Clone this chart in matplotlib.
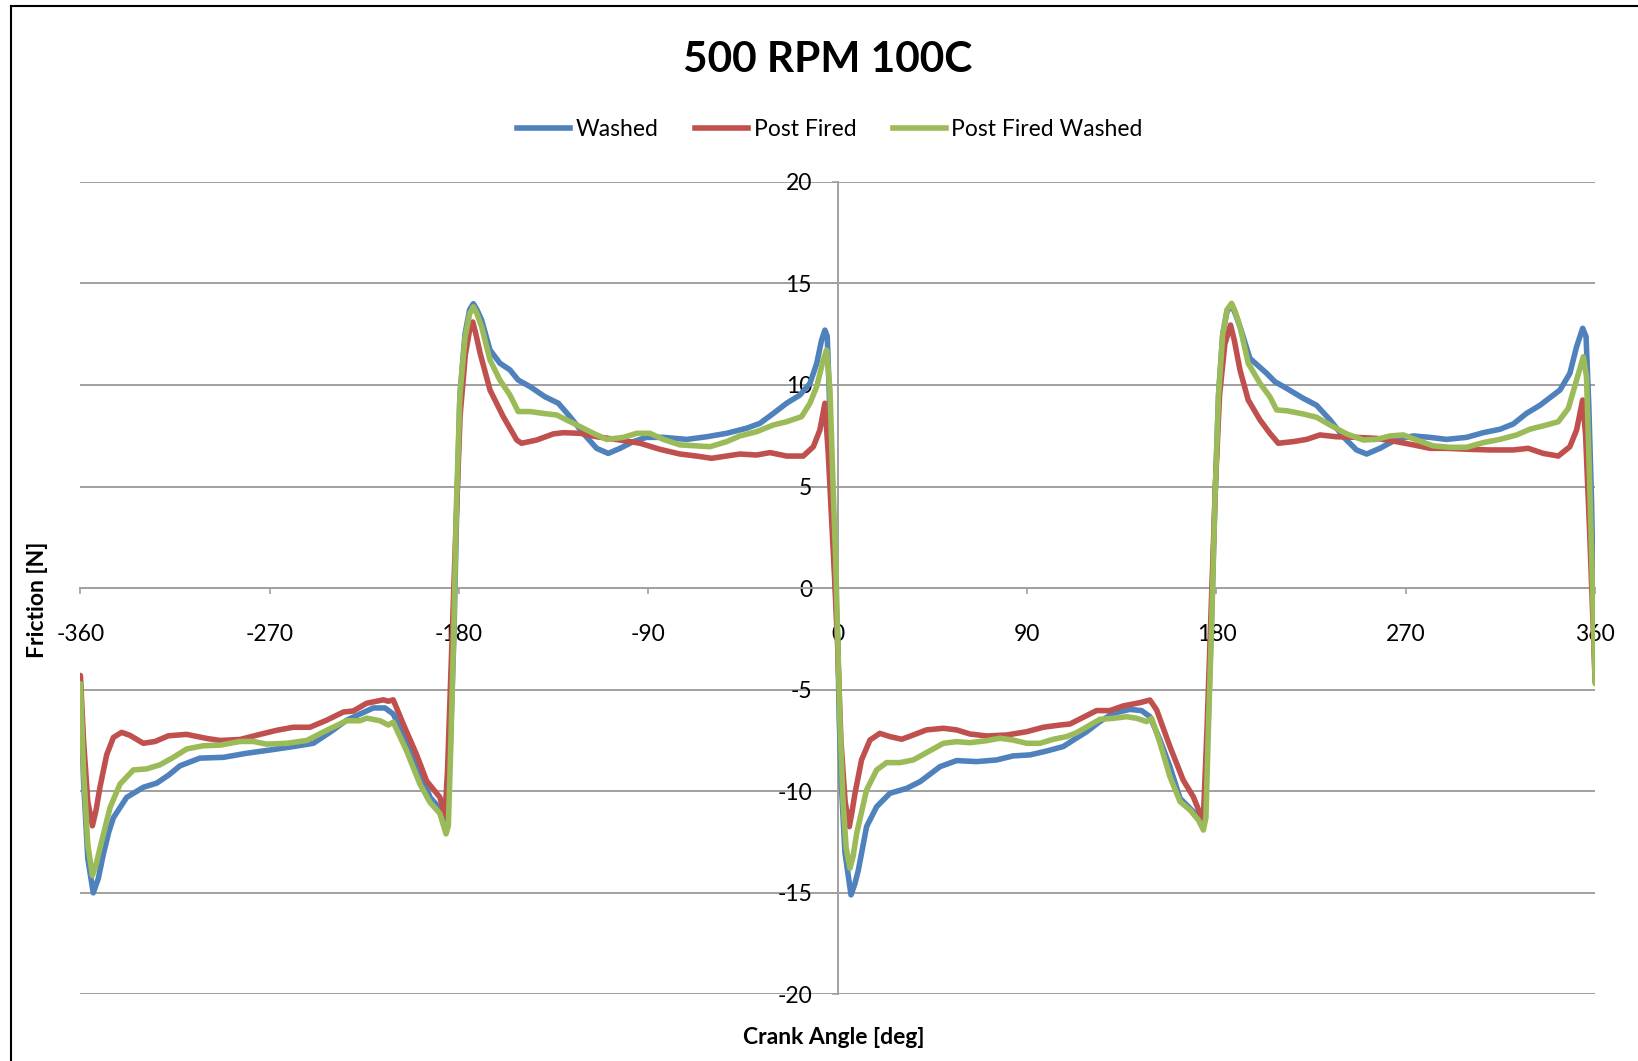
import matplotlib
matplotlib.use("Agg")
import matplotlib.pyplot as plt
from matplotlib.lines import Line2D

plt.rcParams['font.family'] = ['Lato', 'DejaVu Sans']

title = "500 RPM 100C"
series_names = ["Washed", "Post Fired", "Post Fired Washed"]
colors = ["#4F81BD", "#C0504D", "#9BBB59"]
x_ticks = [-360, -270, -180, -90, 0, 90, 180, 270, 360]
y_ticks = [-20, -15, -10, -5, 0, 5, 10, 15, 20]

washed_angle = [-360, -358.5, -356.5, -353.9, -351.5, -349.1, -346.5, -344.3, -338, -330, -323.7, -318, -312.7,
                -303.2, -292, -281, -269.9, -258.8, -249.3, -241.4, -233.4, -227.1, -220.8, -215.2, -211.3, -205,
                -198.6, -193.8, -189.5, -187.5, -185.8, -184.3, -182.5, -181.2, -179.6, -177.2, -175, -173.2,
                -171.5, -169.3, -165.3, -160.6, -155.8, -151.9, -146.3, -139.2, -132.8, -127.3, -121, -114.6,
                -109.1, -103.5, -97.2, -90.9, -82.9, -71.8, -62.3, -52.8, -43.3, -37, -30.6, -24.3, -18, -13.2,
                -10, -7.7, -6.1, -5, -4, -2.9, -1.5, 0, 0.7, 1.8, 3.4, 6.3, 8, 9.76, 13.7, 18.5, 24.8, 32.7, 39.1,
                48.6, 56.5, 66, 75.5, 83.4, 91.4, 99.3, 107.2, 112, 118.3, 124.6, 131, 138.9, 144.4, 148.4, 153.2,
                157.9, 162.7, 167.4, 171.4, 173, 174.5, 176.1, 177.7, 179.3, 181, 183, 185, 187.2, 189, 191.2,
                195.9, 203.9, 207.8, 213.4, 221.3, 227.6, 234, 240.3, 246.6, 251.4, 257.7, 265.6, 273.6, 281.5,
                289.4, 298.9, 306.8, 314.8, 321.1, 327.4, 333.8, 343.3, 348, 351.2, 354.1, 355.7, 357, 358.3, 360]
washed = [-4.6, -9.5, -13.3, -15.0, -14.3, -13.1, -12.0, -11.3, -10.3, -9.8, -9.6, -9.2, -8.75,
          -8.37, -8.33, -8.13, -7.97, -7.8, -7.64, -7.1, -6.5, -6.2, -5.9, -5.9, -6.2, -7.5,
          -9.0, -10.3, -10.8, -11.0, -11.4, -8.1, -2.5, 3.5, 9.5, 12.5, 13.7, 14.0,
          13.7, 13.2, 11.72, 11.07, 10.74, 10.24, 9.92, 9.42, 9.1, 8.44, 7.62, 6.88,
          6.63, 6.88, 7.21, 7.42, 7.42, 7.32, 7.45, 7.62, 7.87, 8.11, 8.6, 9.1, 9.5, 10.08,
          11.06, 12.2, 12.7, 12.4, 9.5, 4.7, 1.0, -2.5, -6.5, -9.8, -13.0, -15.1, -14.6, -13.9, -11.74, -10.76, -10.1, -9.86, -9.53,
          -8.79, -8.49, -8.54, -8.46, -8.26, -8.21, -8.02, -7.8, -7.48, -7.07, -6.57, -6.16, -5.97, -6.03, -6.33, -7.48,
          -8.79, -10.35, -10.84, -11.25, -11.5, -11.1, -6.5, -1.5, 4.3, 9.5, 12.5, 13.6, 13.94, 13.5, 12.87,
          11.31, 10.57, 10.16, 9.83, 9.34, 9.0, 8.28, 7.45, 6.8, 6.6, 6.88, 7.32, 7.49, 7.42,
          7.32, 7.42, 7.65, 7.82, 8.08, 8.6, 9.0, 9.75, 10.57, 11.88, 12.79, 12.38, 9.0, 4.3, -4.6]

post_fired_angle = [-360, -358.5, -356.5, -354.3, -352.5, -350.7, -347.5, -344.3, -340.4, -336.4, -330.1, -324.5,
                    -318.2, -309.5, -300, -293.6, -284.1, -274.6, -266.7, -258.8, -250.9, -242.9, -235, -230.3,
                    -224, -216, -213.6, -211.3, -206.5, -200.2, -195.4, -189.1, -186.7, -185.5, -183.5, -181.5,
                    -179.5, -177, -175, -173.5, -172, -170, -165.3, -159, -152.6, -150.3, -143.1, -135.2, -130.5,
                    -122.5, -114.6, -103.5, -94, -84.5, -75, -67.1, -60, -52.8, -46.5, -38.6, -32.2, -24.3, -16.4,
                    -11.6, -8.5, -6.1, -4.5, -3, -1.5, 0, 1.5, 3.5, 5.5, 6.8, 8.2, 11.3, 15.3, 20, 24.8, 30.4, 35.9,
                    42.2, 50.2, 56.5, 62.8, 70.8, 80.3, 89.8, 97.7, 105.6, 110.4, 116.7, 123, 129.4, 135.7, 143.6,
                    148.4, 151.6, 157.9, 164.2, 169, 172.2, 173.8, 175.5, 177.5, 179.5, 181.5, 184, 186.7, 188.5,
                    191.2, 195.1, 200.7, 205.4, 209.4, 216.5, 222.9, 229.2, 237.1, 246.6, 256.1, 265.6, 273.6,
                    281.5, 289.4, 300.5, 310, 321.1, 328.2, 335.4, 342.5, 348, 351.2, 354.1, 355.5, 357.5, 360]
post_fired = [-4.3, -7.5, -10.5, -11.7, -10.9, -9.8, -8.2, -7.35, -7.1, -7.25, -7.64, -7.55,
              -7.27, -7.2, -7.4, -7.5, -7.45, -7.2, -7.0, -6.85, -6.85, -6.5, -6.1, -6.05,
              -5.67, -5.5, -5.57, -5.5, -6.7, -8.2, -9.5, -10.3, -11.2, -9.0, -3.0, 3.0,
              8.5, 11.5, 12.7, 13.1, 12.5, 11.56, 9.75, 8.44, 7.29, 7.13, 7.29, 7.59, 7.65,
              7.62, 7.45, 7.29, 7.13, 6.83, 6.6, 6.5, 6.39, 6.5, 6.6, 6.55, 6.67, 6.5, 6.5,
              6.96, 7.78, 9.1, 6.6, 3.5, 0.5, -3.0, -7.5, -10.5, -11.74, -11.0, -10.1, -8.46, -7.48, -7.15, -7.31, -7.44, -7.23,
              -6.98, -6.9, -6.98, -7.18, -7.28, -7.23, -7.07, -6.85, -6.74, -6.69, -6.36, -6.03, -6.03, -5.8, -5.64,
              -5.51, -6.0, -7.8, -9.45, -10.27, -11.09, -11.3, -7.0, -1.0, 5.0, 9.5, 12.0, 12.95, 12.2,
              10.74, 9.26, 8.28, 7.62, 7.13, 7.21, 7.32, 7.54, 7.45, 7.42, 7.37, 7.21, 7.05,
              6.88, 6.88, 6.83, 6.8, 6.8, 6.88, 6.63, 6.5, 6.96, 7.78, 9.26, 7.5, 2.5, -4.5]

pfw_angle = [-360, -358.5, -356.5, -354.3, -352.5, -350.7, -345.9, -341.2, -334.8, -328.5, -322.2, -315.8, -309.5,
             -301.6, -293.6, -284.1, -277.8, -271.5, -261.9, -252.4, -242.9, -233.4, -227.1, -223.9, -217.6, -213.6,
             -211.3, -205, -198.6, -193.8, -189.1, -186.2, -185.1, -184, -182.5, -181.2, -179.6, -177.2, -175,
             -173.2, -171.5, -169.3, -165.3, -160.6, -155.8, -151.9, -146.3, -140, -133.6, -128.9, -122.5, -116.2,
             -109.9, -101.9, -95.6, -89.3, -82.9, -75, -67.1, -60.7, -52.8, -46.5, -38.6, -30.6, -24.3, -17.2,
             -13.2, -10, -6.9, -5.3, -3.7, -2.1, -1, 0, 1, 2.5, 4, 5.8, 7.3, 9, 13.7, 18.5, 23.2, 29.6, 35.9, 42.2,
             50.2, 56.5, 62.8, 70.8, 77.1, 83.4, 89.8, 96.1, 102.5, 108.8, 113.5, 119.9, 124.6, 131, 137.3, 142.1,
             146.8, 149.2, 153.2, 157.9, 162.7, 167.4, 171.4, 173.8, 175, 176.3, 177.8, 179.3, 181, 183, 185, 187.2,
             189, 191.2, 195.1, 200.7, 205.4, 208.6, 213.4, 221.3, 227.6, 234, 241.9, 249.8, 256.1, 262.5, 268.8,
             275.2, 283.1, 291, 298.9, 306.8, 314.8, 322.7, 329, 337, 342.5, 347.3, 351.2, 354.4, 355.9, 357.2,
             358.5, 360]
post_fired_washed = [-4.7, -9.0, -12.6, -14.15, -13.6, -12.8, -10.8, -9.65, -8.95, -8.9, -8.7, -8.33, -7.92,
                     -7.76, -7.73, -7.55, -7.55, -7.68, -7.64, -7.5, -7.0, -6.53, -6.53, -6.4, -6.53, -6.74,
                     -6.6, -8.0, -9.65, -10.55, -11.1, -12.1, -11.7, -8.0, -2.0, 4.3, 9.5, 12.3, 13.5,
                     13.85, 13.5, 12.87, 11.23, 10.24, 9.5, 8.69, 8.69, 8.6, 8.52, 8.28, 7.95, 7.62,
                     7.32, 7.42, 7.62, 7.62, 7.32, 7.05, 7.0, 6.96, 7.21, 7.49, 7.7, 8.03, 8.19, 8.44,
                     9.1, 9.92, 11.23, 11.72, 9.75, 4.67, 1.5, -2.5, -6.5, -10.5, -12.8, -13.79, -13.2, -12.07, -9.94, -8.95, -8.59, -8.59, -8.46, -8.1,
                     -7.64, -7.56, -7.61, -7.51, -7.39, -7.48, -7.64, -7.64, -7.44, -7.31, -7.12, -6.74, -6.46, -6.41, -6.33, -6.41,
                     -6.57, -6.41, -7.64, -9.28, -10.51, -10.92, -11.41, -11.91, -11.3, -6.5, -1.5, 4.3, 9.5, 12.5, 13.7, 14.02,
                     13.6, 12.87, 11.07, 10.08, 9.42, 8.77, 8.73, 8.57, 8.41, 8.03, 7.59, 7.29, 7.32, 7.49, 7.54,
                     7.29, 7.0, 6.93, 6.93, 7.16, 7.32, 7.54, 7.82, 8.03, 8.19, 8.85, 10.24, 11.39, 10.41, 6.0,
                     1.0, -4.7]

W, H = 1638, 1061
fig = plt.figure(figsize=(W / 100, H / 100), dpi=100)
fig.patch.set_facecolor("white")

left, right, top, bottom = 80.4, 1595.1, 181.8, 994.4
ax = fig.add_axes([left / W, 1 - bottom / H, (right - left) / W, (bottom - top) / H])

grid_c = "#A0A0A0"
for y in y_ticks:
    ax.axhline(y, color=grid_c, lw=1.4, zorder=1)

for xs, ys, c, name in [(washed_angle, washed, colors[0], series_names[0]),
                        (post_fired_angle, post_fired, colors[1], series_names[1]),
                        (pfw_angle, post_fired_washed, colors[2], series_names[2])]:
    ax.plot(xs, ys, color=c, lw=4.0, solid_joinstyle="round", solid_capstyle="round", label=name, zorder=3)

ax.set_xlim(-360, 360)
ax.set_ylim(-20, 20)
ax.set_xticks(x_ticks)
ax.set_yticks(y_ticks)
ax.set_xticklabels([str(v) for v in x_ticks])
ax.set_yticklabels([str(v) for v in y_ticks])

for s in ["top", "right"]:
    ax.spines[s].set_visible(False)
ax.spines["left"].set_position(("data", 0))
ax.spines["bottom"].set_position(("data", 0))
for s in ["left", "bottom"]:
    ax.spines[s].set_color(grid_c)
    ax.spines[s].set_linewidth(1.4)
    ax.spines[s].set_zorder(2)

fs = 16.5
ax.tick_params(axis="x", direction="out", length=4, width=1.2, color=grid_c, pad=21.5, labelsize=fs)
ax.tick_params(axis="y", direction="out", length=4, width=1.2, color=grid_c, pad=14.5, labelsize=fs)
ax.patch.set_alpha(0)

fig.text(828 / W, 1 - 60 / H, title, ha="center", va="center", fontsize=30.5, fontweight="bold")
fig.text(38 / W, 1 - 600 / H, "Friction [N]", rotation=90, ha="center", va="center",
         fontsize=fs, fontweight="bold")
fig.text(834 / W, 1 - 1037 / H, "Crank Angle [deg]", ha="center", va="center",
         fontsize=fs, fontweight="bold")

handles = [Line2D([0], [0], color=c, lw=4.0) for c in colors]
fig.legend(handles, series_names, loc="center", bbox_to_anchor=(830 / W, 1 - 130 / H), ncol=3,
           frameon=False, fontsize=fs, handlelength=2.3, handletextpad=0.25, columnspacing=1.6)

# chart area border (left and top edges visible)
fig.add_artist(Line2D([10.5 / W, 10.5 / W], [0, 1 - 6 / H], transform=fig.transFigure, color="black", lw=1.5))
fig.add_artist(Line2D([10.5 / W, 1], [1 - 6 / H, 1 - 6 / H], transform=fig.transFigure, color="black", lw=1.5))

fig.savefig("out.png", dpi=100)
